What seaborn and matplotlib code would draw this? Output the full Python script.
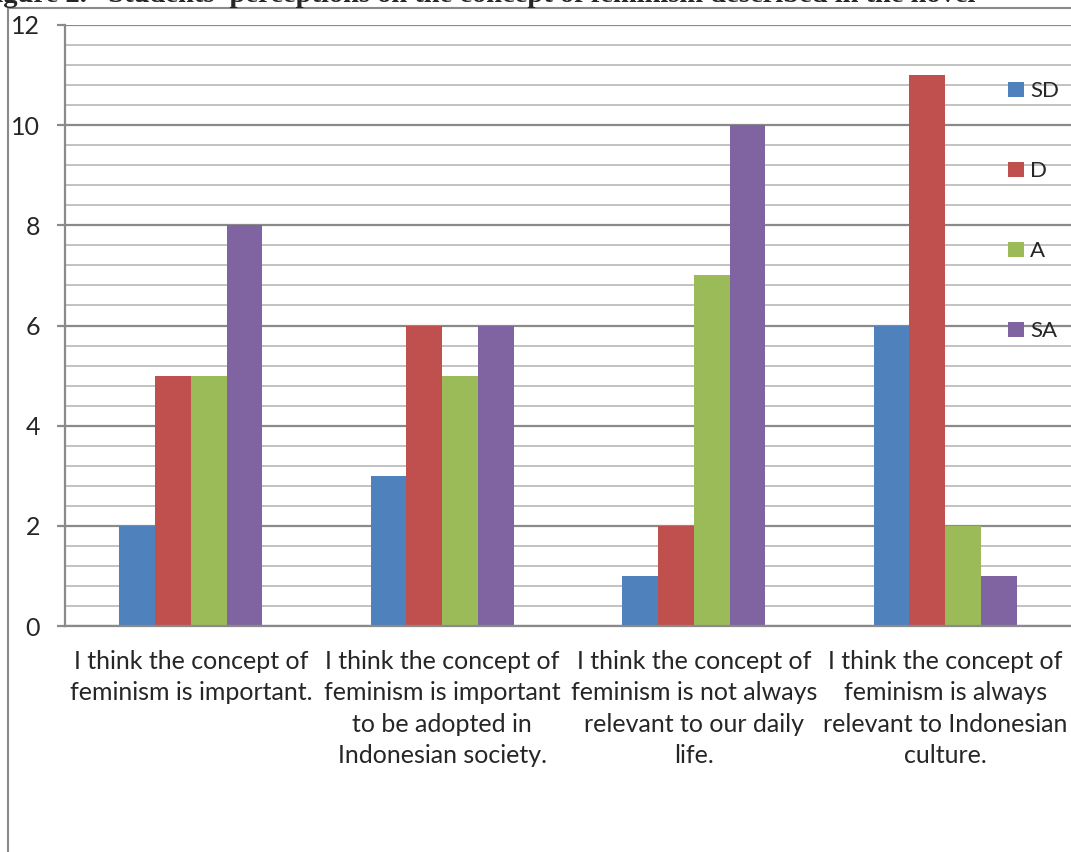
import numpy as np
import pandas as pd
import matplotlib
matplotlib.use("Agg")
import matplotlib.pyplot as plt
import seaborn as sns
from matplotlib.ticker import MultipleLocator

statements = [
    "I think the concept of\nfeminism is important.",
    "I think the concept of\nfeminism is important\nto be adopted in\nIndonesian society.",
    "I think the concept of\nfeminism is not always\nrelevant to our daily\nlife.",
    "I think the concept of\nfeminism is always\nrelevant to Indonesian\nculture.",
]
levels = ["SD", "D", "A", "SA"]
sd_vals = [2, 3, 1, 6]
d_vals = [5, 6, 2, 11]
a_vals = [5, 5, 7, 2]
sa_vals = [8, 6, 10, 1]
colors = ["#4F81BD", "#C0504D", "#9BBB59", "#8064A2"]

rows = []
for lvl, vals in zip(levels, [sd_vals, d_vals, a_vals, sa_vals]):
    for s, v in zip(statements, vals):
        rows.append({"statement": s, "level": lvl, "count": v})
df = pd.DataFrame(rows)

sns.set_style("white")
plt.rcParams["font.family"] = ["Lato", "DejaVu Sans"]

W, H = 1071, 852
fig = plt.figure(figsize=(W / 100, H / 100), dpi=100)
ax = fig.add_axes([65 / W, 1 - 626 / H, 1 - 65 / W, (626 - 25) / H])

sns.barplot(data=df, x="statement", y="count", hue="level", order=statements,
            hue_order=levels, palette=colors, width=0.57, saturation=1,
            linewidth=0, ax=ax, legend=True)

ax.set_ylim(0, 12)
ax.set_xlim(-0.5, 3.5)
ax.yaxis.set_major_locator(MultipleLocator(2))
ax.yaxis.set_minor_locator(MultipleLocator(0.4))
ax.grid(which="major", axis="y", color="#8a8a8a", linewidth=1.6)
ax.grid(which="minor", axis="y", color="#bdbdbd", linewidth=1.3)
ax.set_axisbelow(True)
for side in ["top", "right"]:
    ax.spines[side].set_visible(False)
ax.spines["left"].set_color("#8a8a8a")
ax.spines["bottom"].set_color("#8a8a8a")
ax.spines["left"].set_linewidth(1.6)
ax.spines["bottom"].set_linewidth(1.6)
ax.tick_params(axis="y", which="major", length=6, width=1.6, color="#8a8a8a",
               labelsize=18, pad=12, left=True)
ax.tick_params(axis="y", which="minor", length=0)
ax.tick_params(axis="x", length=0, labelsize=18, pad=17)
for lab in ax.get_xticklabels():
    lab.set_multialignment("center")
    lab.set_linespacing(1.45)
ax.set_xlabel("")
ax.set_ylabel("")

leg = ax.legend(loc="upper left", bbox_to_anchor=(997 / W, 1 - 70 / H),
                bbox_transform=fig.transFigure, frameon=False, fontsize=16,
                handlelength=0.7, handleheight=0.7, handletextpad=0.3,
                labelspacing=2.7, borderpad=0)

# outer frame of the document figure
fig.add_artist(plt.Line2D([8 / W, 1], [1 - 8 / H, 1 - 8 / H], transform=fig.transFigure,
                          color="#8a8a8a", linewidth=1.5))
fig.add_artist(plt.Line2D([8 / W, 8 / W], [0, 1 - 8 / H], transform=fig.transFigure,
                          color="#8a8a8a", linewidth=1.5))

# caption, mostly cut off at the top edge
fig.text(-22 / W, 1 - 2 / H, "Figure 2.   Students' perceptions on the concept of feminism described in the novel",
         family="Liberation Serif", fontweight="bold", fontsize=20.5, va="baseline", ha="left")

fig.savefig("out.png", dpi=100)
